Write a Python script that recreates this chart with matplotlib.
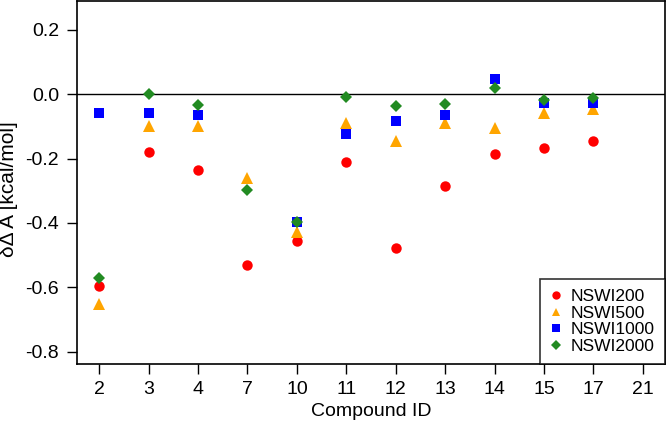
import numpy as np
import matplotlib
matplotlib.use("Agg")
import matplotlib.pyplot as plt

plt.rcParams['font.family'] = ['Liberation Sans', 'DejaVu Sans']

compounds = ['2', '3', '4', '7', '10', '11', '12', '13', '14', '15', '17', '21']
nan = np.nan
nswi200 = [-0.596, -0.181, -0.234, -0.532, -0.457, -0.210, -0.477, -0.285, -0.187, -0.167, -0.144, nan]
nswi500 = [-0.653, -0.100, -0.100, -0.260, -0.428, -0.089, -0.145, -0.091, -0.106, -0.060, -0.046, nan]
nswi1000 = [-0.057, -0.057, -0.066, nan, -0.397, -0.124, -0.083, -0.065, 0.048, -0.027, -0.027, nan]
nswi2000 = [-0.570, 0.000, -0.035, -0.298, -0.397, -0.010, -0.037, -0.032, 0.018, -0.019, -0.013, nan]

series = [
    ('NSWI200', nswi200, 'o', '#ff0000', 7.5),
    ('NSWI500', nswi500, '^', '#ffa500', 8.0),
    ('NSWI1000', nswi1000, 's', '#0000ff', 6.8),
    ('NSWI2000', nswi2000, 'D', '#228b22', 6.5),
]

fig = plt.figure(figsize=(6.66, 4.22), dpi=100)
ax = fig.add_axes([0.1156, 0.1374, 0.883, 0.860])

x = np.arange(len(compounds))
ax.axhline(0, color='black', linewidth=1.0, zorder=1)
for name, vals, mk, col, ms in series:
    ax.plot(x, vals, linestyle='none', marker=mk, color=col, markersize=ms,
            markeredgewidth=0, label=name, zorder=3)

ax.set_xlim(-0.45, 11.45)
ax.set_ylim(-0.838, 0.289)
ax.set_xticks(x)
ax.set_xticklabels(compounds)
ax.set_yticks([-0.8, -0.6, -0.4, -0.2, 0.0, 0.2])
ax.set_yticklabels(['-0.8', '-0.6', '-0.4', '-0.2', '0.0', '0.2'])
ax.tick_params(direction='out', length=7, width=1, labelsize=14)
ax.tick_params(axis='y', pad=6)
ax.tick_params(axis='x', pad=5)
for s in ax.spines.values():
    s.set_linewidth(1.2)

ax.set_xlabel('Compound ID', fontsize=14, labelpad=4)
ax.set_ylabel('δΔ A [kcal/mol]', fontsize=15)
ax.yaxis.set_label_coords(-0.101, 0.481)

leg = ax.legend(loc='lower right', fontsize=12.5, frameon=True, fancybox=False,
                borderaxespad=0, markerscale=0.8, handlelength=0.6,
                handletextpad=0.55, labelspacing=0.07, borderpad=0.6)
leg.get_frame().set_edgecolor('black')
leg.get_frame().set_linewidth(1.2)

fig.savefig('out.png', dpi=100)
